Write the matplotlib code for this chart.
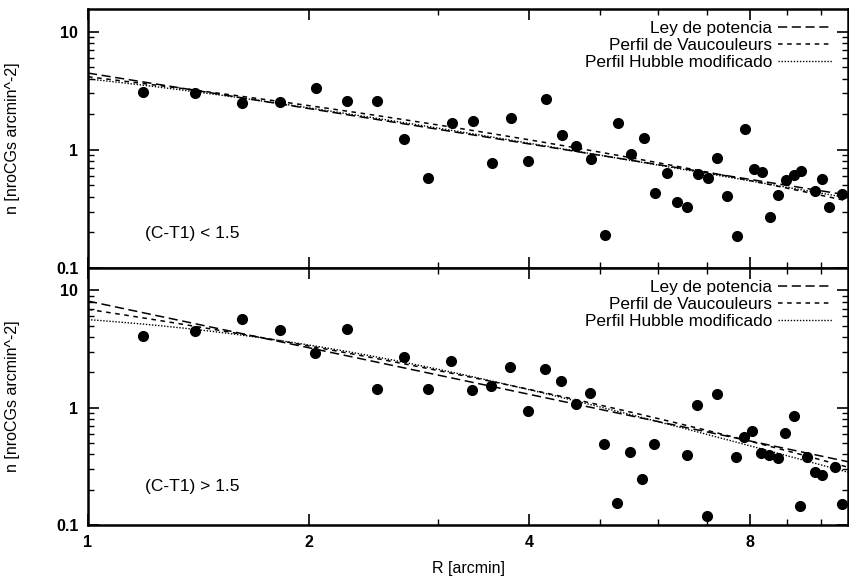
import numpy as np
import matplotlib
matplotlib.use("Agg")
import matplotlib.pyplot as plt
from matplotlib.ticker import FixedLocator, NullFormatter, FixedFormatter

plt.rcParams['font.family'] = ['Liberation Sans', 'DejaVu Sans']

# ---- data: (C-T1) < 1.5 ----
r_blue = [1.19, 1.40, 1.62, 1.83, 2.05, 2.26, 2.48, 2.70, 2.91, 3.14, 3.35, 3.56, 3.78,
          3.99, 4.22, 4.43, 4.64, 4.86, 5.07, 5.29, 5.51, 5.73, 5.94, 6.16, 6.37, 6.57,
          6.79, 7.01, 7.22, 7.45, 7.68, 7.89, 8.10, 8.31, 8.52, 8.74, 8.96, 9.18, 9.40,
          9.83, 10.05, 10.27, 10.70]
n_blue = [3.06, 3.00, 2.50, 2.55, 3.31, 2.60, 2.60, 1.23, 0.58, 1.68, 1.74, 0.77, 1.87,
          0.80, 2.67, 1.32, 1.075, 0.83, 0.19, 1.70, 0.925, 1.26, 0.435, 0.635, 0.362, 0.33,
          0.622, 0.582, 0.851, 0.408, 0.186, 1.50, 0.69, 0.651, 0.272, 0.418, 0.554, 0.606,
          0.66, 0.449, 0.568, 0.329, 0.424]

# ---- data: (C-T1) > 1.5 ----
r_red = [1.19, 1.40, 1.62, 1.83, 2.04, 2.26, 2.48, 2.70, 2.91, 3.13, 3.34, 3.55, 3.77,
         3.99, 4.21, 4.42, 4.63, 4.85, 5.06, 5.28, 5.50, 5.71, 5.93, 6.56, 6.78, 6.99,
         7.22, 7.66, 7.86, 8.07, 8.29, 8.50, 8.73, 8.94, 9.18, 9.37, 9.59, 9.82, 10.03,
         10.45, 10.68]
n_red = [4.08, 4.48, 5.70, 4.57, 2.93, 4.66, 1.44, 2.71, 1.43, 2.52, 1.42, 1.53, 2.22,
         0.928, 2.14, 1.68, 1.08, 1.33, 0.489, 0.155, 0.416, 0.246, 0.486, 0.397, 1.06, 0.120,
         1.30, 0.381, 0.561, 0.627, 0.412, 0.394, 0.370, 0.610, 0.842, 0.146, 0.381, 0.282,
         0.267, 0.312, 0.151]

# ---- fitted model parameters ----
fit_top = dict(pl_A=4.45, pl_s=-0.995, dv_a=4.384, dv_b=2.963, hb_n0=6.60, hb_a=0.8, hb_g=0.54)
fit_bot = dict(pl_A=8.1, pl_s=-1.32, dv_a=5.724, dv_b=3.794, hb_n0=7.29, hb_a=1.7, hb_g=0.87)

labels = ["Ley de potencia", "Perfil de Vaucouleurs", "Perfil Hubble modificado"]
texts = ["(C-T1) < 1.5", "(C-T1) > 1.5"]

XMIN, XMAX = 1.0, 10.9
YMIN, YMAX = 0.1, 15.5

fig = plt.figure(figsize=(8.49, 5.76), dpi=100)
ax1 = fig.add_axes([88/849, 1-268/576, 1-88/849-0.001, (268-9)/576])
ax2 = fig.add_axes([88/849, 1-525/576, 1-88/849-0.001, (525-268)/576], sharex=ax1)

rr = np.logspace(np.log10(XMIN), np.log10(XMAX), 300)

for ax, r, n, p, t, ty in [(ax1, r_blue, n_blue, fit_top, texts[0], 0.135),
                           (ax2, r_red, n_red, fit_bot, texts[1], 0.149)]:
    ax.set_xscale('log')
    ax.set_yscale('log')
    ax.set_xlim(XMIN, XMAX)
    ax.set_ylim(YMIN, YMAX)
    pl = p['pl_A'] * rr ** p['pl_s']
    dv = np.exp(p['dv_a'] - p['dv_b'] * rr ** 0.25)
    hb = p['hb_n0'] * (1 + (rr / p['hb_a']) ** 2) ** (-p['hb_g'])
    ax.plot(rr, pl, color='black', lw=1.1, ls=(0, (6, 3)), label=labels[0])
    ax.plot(rr, dv, color='black', lw=1.1, ls=(0, (3, 3)), label=labels[1])
    ax.plot(rr, hb, color='black', lw=1.0, ls=(0, (1, 1.2)), label=labels[2])
    ax.plot(r, n, 'o', color='black', ms=7, zorder=5, clip_on=True)
    ax.text(0.075, ty, t, transform=ax.transAxes, fontsize=12.5,
            ha='left', va='center')
    leg = ax.legend(loc='upper right', frameon=False, markerfirst=False, fontsize=12.4,
                    handlelength=3.1, handletextpad=0.35, labelspacing=0.1,
                    borderaxespad=0.3, bbox_to_anchor=(0.994, 1.0))
    ax.set_ylabel("n [nroCGs arcmin^-2]", fontsize=11.5)
    ax.yaxis.set_label_coords(-0.09, 0.5)
    ax.yaxis.set_major_locator(FixedLocator([0.1, 1, 10]))
    ax.yaxis.set_major_formatter(FixedFormatter(["0.1", "1", "10"]))
    ax.yaxis.set_minor_locator(FixedLocator([v * d for d in (0.1, 1, 10) for v in range(2, 10)]))
    ax.yaxis.set_minor_formatter(NullFormatter())
    ax.xaxis.set_major_locator(FixedLocator([1, 2, 4, 8]))
    ax.xaxis.set_major_formatter(FixedFormatter(["1", "2", "4", "8"]))
    ax.xaxis.set_minor_locator(FixedLocator([3, 5, 6, 7, 9, 10]))
    ax.xaxis.set_minor_formatter(NullFormatter())
    ax.tick_params(which='both', direction='in', top=True, right=True, color='black')
    ax.tick_params(which='major', length=8, width=1.2, labelsize=11.5, pad=7)
    ax.tick_params(which='minor', length=4, width=1.0)
    for sp in ax.spines.values():
        sp.set_linewidth(1.8)

ax1.tick_params(labelbottom=False)
for lab in ax1.get_yticklabels() + ax2.get_yticklabels() + ax2.get_xticklabels():
    lab.set_fontweight('bold')
ax2.set_xlabel("R [arcmin]", fontsize=11.5, labelpad=8)

fig.savefig("out.png", dpi=100)
